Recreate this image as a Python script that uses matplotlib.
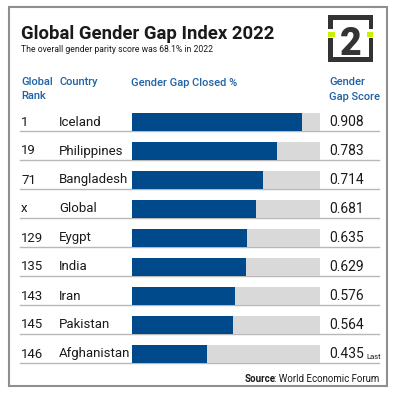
import matplotlib
matplotlib.use("Agg")
import matplotlib.pyplot as plt
from matplotlib.patches import Rectangle
from matplotlib.transforms import blended_transform_factory

ranks = ["1", "19", "71", "x", "129", "135", "143", "145", "146"]
countries = ["Iceland", "Philippines", "Bangladesh", "Global", "Eygpt",
             "India", "Iran", "Pakistan", "Afghanistan"]
scores = [0.908, 0.783, 0.714, 0.681, 0.635, 0.629, 0.576, 0.564, 0.435]

BLUE = "#004a8c"
HEAD = "#1f62a6"
GREY = "#d9d9d9"
TXT = "#1a1a1a"
LOGO = "#333333"
LIME = "#c8f000"

plt.rcParams['font.family'] = ['Roboto', 'DejaVu Sans']

fig = plt.figure(figsize=(3.96, 3.96), dpi=100)

# full-figure axes in pixel coords for the decorations
bg = fig.add_axes([0, 0, 1, 1])
bg.set_xlim(0, 396)
bg.set_ylim(396, 0)
bg.axis('off')

bg.add_patch(Rectangle((9, 7), 378, 379, fill=False, ec="#8f8f8f", lw=1.5))

bg.text(21, 39, "Global Gender Gap Index 2022", fontsize=13.3, fontweight='bold',
        color=TXT, va='baseline')
bg.text(21, 51.5, "The overall gender parity score was 68.1% in 2022",
        fontsize=6.2, color=TXT, va='baseline')

# logo
for (x, y, w, h, c) in [(328, 15, 45, 4.5, LOGO), (328, 15, 4.5, 14, LOGO),
                        (368.5, 15, 4.5, 14, LOGO), (328, 31.7, 6.5, 5, LIME),
                        (366.5, 31.7, 6.5, 5, LIME), (328, 38.3, 4.5, 23.4, LOGO),
                        (368.5, 38.3, 4.5, 23.4, LOGO), (328, 57.3, 45, 4.4, LOGO)]:
    bg.add_patch(Rectangle((x, y), w, h, color=c, lw=0))
bg.text(350.5, 55, "2", fontsize=27, fontweight='black', color=LOGO,
        ha='center', va='baseline')

# column headers
hs = 8
bg.text(21, 82, "Global", fontsize=hs, color=HEAD, va='center', fontweight='medium')
bg.text(21, 96, "Rank", fontsize=hs, color=HEAD, va='center', fontweight='medium')
bg.text(59, 82, "Country", fontsize=hs, color=HEAD, va='center', fontweight='medium')
bg.text(131, 83, "Gender Gap Closed %", fontsize=hs, color=HEAD, va='center',
        fontweight='medium')
bg.text(329, 82, "Gender", fontsize=hs, color=HEAD, va='center', fontweight='medium')
bg.text(329, 97, "Gap Score", fontsize=hs, color=HEAD, va='center', fontweight='medium')

# bars
ax = fig.add_axes([131.7 / 396, 1 - 368.5 / 396, 188.3 / 396, 261 / 396])
ax.patch.set_visible(False)
ax.axis('off')
rows = list(range(len(countries)))
ax.barh(rows, [1.0] * len(rows), height=0.63, color=GREY, zorder=2)
ax.barh(rows, scores, height=0.63, color=BLUE, zorder=3)
ax.set_xlim(0.06, 1.0)
ax.set_ylim(8.5, -0.5)

blend = blended_transform_factory(bg.transData, ax.transData)
rs = 9.5
for i in rows:
    ax.plot([20, 379], [i + 0.315, i + 0.315], color="#b8b8b8", lw=1,
            transform=blend, clip_on=False, zorder=1)
    ax.text(21, i, ranks[i], fontsize=rs, color=TXT, va='center', transform=blend)
    ax.text(59, i, countries[i], fontsize=rs, color=TXT, va='center', transform=blend)
    t = ax.text(329, i, "%.3f" % scores[i], fontsize=rs + 0.5, color=TXT,
                va='center', transform=blend)
    if i == len(rows) - 1:
        ax.annotate("Last", xy=(1, 0), xycoords=t, xytext=(2, 0.5),
                    textcoords='offset points', fontsize=5.5, color=TXT,
                    va='bottom')

src = bg.text(379, 379, ": World Economic Forum", fontsize=7, color=TXT,
              ha='right', va='center')
bg.annotate("Source", xy=(0, 0), xycoords=src, xytext=(1.6, 0),
            textcoords='offset points', fontsize=7, fontweight='bold',
            color=TXT, ha='right', va='bottom')

fig.savefig("out.png", dpi=100, facecolor='white')
